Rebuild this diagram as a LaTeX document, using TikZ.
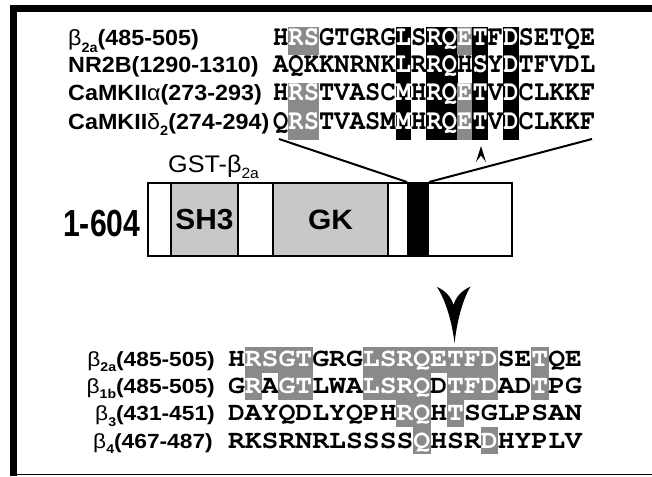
\documentclass[tikz,border=0pt]{standalone}
\usepackage{fontspec}
\setmainfont{Liberation Sans}
\newfontfamily\seqf{texgyrecursor}[Extension=.otf,UprightFont=*-regular,BoldFont=*-bold]
\usepackage{graphicx}
\definecolor{hlgrey}{RGB}{138,138,138}
\definecolor{boxgrey}{RGB}{200,200,200}

\newcommand\lsub[1]{\raisebox{-0.28em}{\scalebox{0.62}{#1}}}
\newcommand\topch[1]{{\seqf\bfseries\fontsize{28.5}{28}\selectfont\scalebox{0.89}[1]{#1}}}
\newcommand\botch[1]{{\seqf\bfseries\fontsize{26}{26}\selectfont\scalebox{1.08}[1]{#1}}}
\newcommand\toplab[1]{{\bfseries\fontsize{22}{22}\selectfont\scalebox{1.06}[1]{#1}}}
\newcommand\botlab[1]{{\bfseries\fontsize{20.5}{20}\selectfont\scalebox{1.11}[1]{#1}}}

\tikzset{
  cell-n/.style={}, cell-g/.style={fill=hlgrey}, cell-b/.style={fill=black},
  txt-n/.style={text=black}, txt-g/.style={text=white}, txt-b/.style={text=white},
  chr/.style={inner sep=0pt, anchor=base},
  lab/.style={inner sep=0pt},
  dombox/.style={draw, line width=2pt, inner sep=0pt, minimum height=73pt},
  conn/.style={line width=2pt},
}

\newcommand\seqrow[8]{%
  \foreach \ch/\st [count=\i from 0] in {#8}{%
    \pgfmathsetmacro\xl{#2+\i*#3-0.3}%
    \pgfmathsetmacro\xr{#2+(\i+1)*#3+0.3}%
    \pgfmathsetmacro\xm{#2+(\i+0.5)*#3}%
    \path[cell-\st] (\xl,#5) rectangle (\xr,#6);
    \node[chr, txt-\st] (#1\i) at (\xm,#4) {#7{\ch}};
  }}

\begin{document}
\begin{tikzpicture}[x=1pt,y=-1pt]
\useasboundingbox (0,0) rectangle (652,476);
% frame
\draw[line width=7pt] (13.5,476) -- (13.5,8.5) -- (652,8.5);
\draw[line width=1.5pt] (10,474.5) -- (652,474.5);

% top labels
\node[lab, anchor=base west] (l1) at (68,46) {\toplab{{\mdseries β}\lsub{2a}(485-505)}};
\node[lab, anchor=base west] (l2) at (68,73) {\toplab{NR2B(1290-1310)}};
\node[lab, anchor=base west] (l3) at (68,101) {\toplab{CaMKII{\mdseries α}(273-293)}};
\node[lab, anchor=base west] (l4) at (68,129) {\toplab{CaMKII{\mdseries δ}\lsub{2}(274-294)}};

% top sequences
\seqrow{ta}{273}{15.35}{46}{27}{55}{\topch}{H/n,R/g,S/g,G/n,T/n,G/n,R/n,G/n,L/b,S/n,R/b,Q/b,E/g,T/b,F/n,D/b,S/n,E/n,T/n,Q/n,E/n}
\seqrow{tb}{273}{15.35}{73}{55}{83}{\topch}{A/n,Q/n,K/n,K/n,N/n,R/n,N/n,K/n,L/b,R/n,R/b,Q/b,H/n,S/b,Y/n,D/b,T/n,F/n,V/n,D/n,L/n}
\seqrow{tc}{273}{15.35}{101}{83}{111}{\topch}{H/n,R/g,S/g,T/n,V/n,A/n,S/n,C/n,M/b,H/n,R/b,Q/b,E/g,T/b,V/n,D/b,C/n,L/n,K/n,K/n,F/n}
\seqrow{td}{273}{15.35}{129}{111}{140}{\topch}{Q/n,R/g,S/g,T/n,V/n,A/n,S/n,M/n,M/b,H/n,R/b,Q/b,E/g,T/b,V/n,D/b,C/n,L/n,K/n,K/n,F/n}

% small arrowhead under the T column
\coordinate (up) at (481,146);
\fill (up) -- (476,162) -- (481,155.5) -- (486,162) -- cycle;

% GST label and length
\node[lab, anchor=base west] (gst) at (168,172) {\fontsize{24}{24}\selectfont\scalebox{1.05}[1]{GST-β\lsub{2a}}};
\node[lab, anchor=base west] (len) at (63,236.7) {\bfseries\fontsize{37.7}{38}\selectfont\scalebox{0.8}[1]{1-604}};

% protein box
\node[dombox, line width=2.5pt, fill=white, minimum width=364pt] (box) at (330,219.5) {};
\node[dombox, fill=boxgrey, minimum width=67pt] (sh3) at (204.5,219.5) {\bfseries\fontsize{29}{29}\selectfont\scalebox{1.03}[1]{SH3}};
\node[dombox, fill=boxgrey, minimum width=115pt] (gk) at (330.5,219.5) {\bfseries\fontsize{28}{28}\selectfont\scalebox{1.07}[1]{GK}};
\node[dombox, fill=black, minimum width=20pt] (bar) at (418,219.5) {};

% connectors to the alignment
\coordinate (selL) at (279,139);
\coordinate (selR) at (592,139);
\draw[conn] (bar.north west) -- (selL);
\draw[conn] (bar.north east) -- (selR);

% big arrowhead
\coordinate (dn) at (454.5,343);
\fill (437,287) .. controls (446,291) and (451,297) .. (453.5,305)
  .. controls (456,297) and (461,291) .. (470.5,286.5)
  .. controls (462,301) and (457,322) .. (dn)
  .. controls (452,322) and (446,301) .. (437,287) -- cycle;

% bottom labels
\node[lab, anchor=base east] (m1) at (215,366) {\botlab{{\mdseries β}\lsub{2a}(485-505)}};
\node[lab, anchor=base east] (m2) at (215,393) {\botlab{{\mdseries β}\lsub{1b}(485-505)}};
\node[lab, anchor=base east] (m3) at (215,420.5) {\botlab{{\mdseries β}\lsub{3}(431-451)}};
\node[lab, anchor=base east] (m4) at (213,448) {\botlab{{\mdseries β}\lsub{4}(467-487)}};

% bottom sequences
\seqrow{ba}{228}{16.86}{366}{347}{373}{\botch}{H/n,R/g,S/g,G/g,T/g,G/n,R/n,G/n,L/g,S/g,R/g,Q/g,E/g,T/g,F/g,D/g,S/n,E/n,T/g,Q/n,E/n}
\seqrow{bb}{228}{16.86}{393}{373}{400}{\botch}{G/n,R/g,A/n,G/g,T/g,L/n,W/n,A/n,L/g,S/g,R/g,Q/g,D/n,T/g,F/g,D/g,A/n,D/n,T/g,P/n,G/n}
\seqrow{bc}{228}{16.86}{420.5}{400}{427}{\botch}{D/n,A/n,Y/n,Q/n,D/n,L/n,Y/n,Q/n,P/n,H/n,R/g,Q/g,H/n,T/g,S/n,G/n,L/n,P/n,S/n,A/n,N/n}
\seqrow{bd}{228}{16.86}{448}{427}{454}{\botch}{R/n,K/n,S/n,R/n,N/n,R/n,L/n,S/n,S/n,S/n,S/n,Q/g,H/n,S/n,R/n,D/g,H/n,Y/n,P/n,L/n,V/n}
\end{tikzpicture}
\end{document}
